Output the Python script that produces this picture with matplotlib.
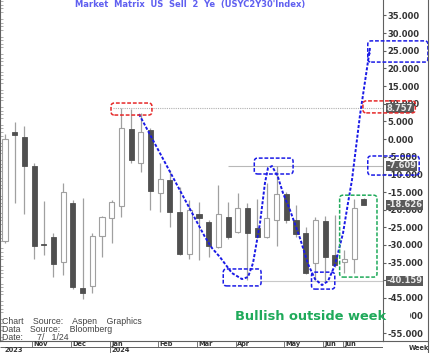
import numpy as np
import pandas as pd
import matplotlib
matplotlib.use("Agg")
import matplotlib.pyplot as plt
from matplotlib.patches import FancyBboxPatch, Rectangle
from matplotlib.lines import Line2D

# weekly bars, USYC2Y30 index
weeks = pd.date_range("2023-10-16", periods=38, freq="W-MON")
opens = [-28.9, 2.0, 0.6, -7.6, -29.7, -27.8, -34.8, -18.1, -42.2, -41.6, -27.5, -22.4, -19.0, 2.8,
         -6.8, 2.5, -15.3, -11.6, -20.7, -32.6, -21.2, -23.5, -30.6, -22.1, -26.3, -19.5, -25.2,
         -27.8, -22.9, -15.6, -22.9, -26.6, -35.1, -23.2, -32.9, -34.8, -34.0, -17.0]
highs = [1.4, 4.8, 3.7, -6.8, -17.6, -26.6, -12.5, -17.3, -16.7, -26.6, -21.8, -17.3, 8.757, 8.6,
         7.4, 3.1, -6.8, -8.8, -13.6, -17.3, -17.8, -22.9, -13.0, -17.8, -15.3, -18.1, -17.0,
         -12.5, -7.609, -15.0, -18.7, -24.9, -22.1, -21.8, -21.5, -31.4, -17.0, -16.7]
lows = [-29.5, -18.1, -21.2, -34.0, -32.9, -39.1, -38.5, -42.5, -45.3, -43.6, -33.4, -29.5, -22.1,
        -6.8, -9.3, -20.1, -20.7, -24.9, -32.9, -34.0, -34.3, -33.4, -30.9, -28.3, -26.6, -39.9,
        -28.0, -28.0, -30.3, -23.8, -27.8, -38.2, -39.9, -40.159, -36.3, -38.0, -38.0, -18.8]
closes = [0.0, 1.1, -7.6, -30.3, -29.9, -35.4, -15.0, -41.9, -43.6, -27.5, -22.1, -17.8, 3.1, -5.9,
          2.0, -14.7, -11.3, -20.7, -32.6, -20.1, -22.4, -30.3, -21.2, -27.8, -19.5, -26.6, -27.8,
          -22.4, -15.6, -22.9, -26.9, -38.0, -22.9, -33.4, -35.7, -34.0, -19.5, -18.626]

month_labels = ["Nov", "Dec", "Jan", "Feb", "Mar", "Apr", "May", "Jun", "Jun"]
month_idx = [3, 7, 11, 16, 20, 24, 29, 33, 35]
year_labels = ["2023", "2024"]
year_idx = [0, 11]

yticks = np.arange(-55, 36, 5)
key_levels = [8.757, -7.609, -18.626, -40.159]

# projected path (week index, value)
path_x = [13.81, 20.62, 21.34, 22.16, 23.40, 24.43, 25.05, 25.57, 26.29, 26.80, 27.11, 27.53,
          28.14, 28.66, 29.38, 30.41, 31.24, 31.96, 32.68, 33.30, 34.02, 34.85, 35.36, 35.77,
          36.60, 37.63]
path_y = [7.08, -27.76, -30.88, -33.43, -37.96, -39.66, -39.09, -35.13, -23.80, -12.46, -8.22,
          -7.65, -10.76, -15.30, -20.11, -28.05, -35.41, -39.66, -41.36, -40.23, -35.69, -26.63,
          -18.13, -11.61, 6.80, 25.78]

RED = "#e62828"
BLUE = "#1a1ae6"
GREEN = "#1faa5a"

# (x0, x1, y0, y1, color)
boxes = [
    (10.93, 15.15, 6.8, 10.2, RED),
    (36.9, 42.3, 7.4, 10.8, RED),
    (37.4, 43.6, 21.8, 27.8, BLUE),
    (37.4, 42.7, -10.2, -4.8, BLUE),
    (25.7, 29.7, -9.9, -5.4, BLUE),
    (22.5, 26.4, -41.6, -36.8, BLUE),
    (31.6, 34.0, -42.5, -37.7, BLUE),
    (34.5, 38.35, -39.1, -15.9, GREEN),
]

W, H = 434, 353
fig = plt.figure(figsize=(W / 100, H / 100), dpi=100)
ax = fig.add_axes([0, 12 / H, 383 / W, 341 / H])
xlim = (-0.515, 38.97)
ax.set_xlim(*xlim)
ax.set_ylim(-57.2, 39.38)

x = np.arange(len(weeks))
o = np.array(opens); c = np.array(closes)
up = c >= o
ax.vlines(x, lows, highs, color="#a0a0a0", lw=0.9, zorder=2)
bw = 0.52
for i in range(len(x)):
    lo, hi = min(o[i], c[i]), max(o[i], c[i])
    h = max(hi - lo, 0.25)
    if up[i]:
        ax.add_patch(Rectangle((x[i] - bw / 2, lo), bw, h, fc="white", ec="#a0a0a0", lw=0.8, zorder=3))
    else:
        ax.add_patch(Rectangle((x[i] - bw / 2, lo), bw, h, fc="#505050", ec="#505050", lw=0.6, zorder=3))

# reference lines
ax.hlines(8.757, 11.1, xlim[1], color="#b0b0b0", lw=0.8, ls=(0, (1, 1)), zorder=1)
ax.hlines(-7.609, 23.0, xlim[1], color="#b8b8b8", lw=0.8, zorder=1)
ax.hlines(-40.159, 26.3, xlim[1], color="#c8c8c8", lw=0.8, zorder=1)

# projected path
ax.plot(path_x, path_y, color=BLUE, lw=1.4, ls=(0, (1.6, 0.9)), zorder=5, clip_on=False)
ax.annotate("", xy=(path_x[-1], path_y[-1]), xytext=(path_x[-2], path_y[-2]),
            arrowprops=dict(arrowstyle="-|>", color=BLUE, lw=0, mutation_scale=6), zorder=5)

for x0, x1, y0, y1, col in boxes:
    ax.add_patch(FancyBboxPatch((x0, y0), x1 - x0, y1 - y0,
                                boxstyle="round,pad=0,rounding_size=0.35",
                                mutation_aspect=9.7 / 3.53, fill=False, ec=col, lw=1.1,
                                ls=(0, (2.5, 1.2)), clip_on=False, zorder=8))

# axes styling
ax.spines["top"].set_visible(False)
for s in ["left", "right", "bottom"]:
    ax.spines[s].set_color("#606060")
    ax.spines[s].set_linewidth(0.8)
ax.set_xticks([])
ax.yaxis.tick_right()
ax.set_yticks(yticks)
ax.set_yticklabels([f"{v:.3f}" for v in yticks], fontsize=6, fontweight="bold",
                   color="#333333", family="DejaVu Sans")
ax.tick_params(axis="y", which="major", direction="out", length=2, pad=1, color="#606060")
ax.set_yticks(np.arange(-57, 40, 1), minor=True)
ax.tick_params(axis="y", which="minor", left=True, right=False, direction="in", length=2,
               width=0.5, color="#909090")

for v in key_levels:
    ax.annotate(f"{v:.3f}", xy=(1, v), xycoords=("axes fraction", "data"), xytext=(2.5, 0),
                textcoords="offset points", ha="left", va="center", fontsize=6,
                fontweight="bold", color="#e8e8e8", family="DejaVu Sans",
                bbox=dict(boxstyle="square,pad=0.08", fc="#5a5a5a", ec="none"),
                annotation_clip=False, zorder=7)

fig.text(190 / W, 1 - 5 / H, "Market  Matrix  US  Sell  2  Ye  (USYC2Y30'Index)", ha="center",
         va="center", fontsize=6, fontweight="bold", color="#5f5ff0")

fig.text(2 / W, 1 - 322 / H, "Chart    Source:    Aspen    Graphics", fontsize=6.3,
         color="#444444", family="Liberation Sans", va="center")
fig.text(2 / W, 1 - 329.5 / H, "Data    Source:    Bloomberg", fontsize=6.3,
         color="#444444", family="Liberation Sans", va="center")
fig.text(2 / W, 1 - 337 / H, "Date:      7/   1/24", fontsize=6.3,
         color="#444444", family="Liberation Sans", va="center")

fig.patches.append(Rectangle((384 / W, 1 - 323 / H), 26 / W, 13 / H, transform=fig.transFigure,
                             fc="white", ec="none", zorder=2))
fig.text(235 / W, 1 - 317 / H, "Bullish outside week", fontsize=9.4, fontweight="bold",
         color=GREEN, va="center", ha="left", zorder=4)

# date strip
dax = fig.add_axes([0, 0, 383 / W, 12 / H])
dax.set_xlim(*xlim)
dax.set_ylim(0, 12)
dax.axis("off")
dax.hlines([6.2, 11.9], xlim[0], xlim[1], color="#606060", lw=0.7)
for lab, i in zip(month_labels, month_idx):
    dax.vlines(i - 0.2, 6.2, 12, color="#606060", lw=0.6)
    dax.text(i - 0.05, 9.1, lab, fontsize=4.8, fontweight="bold", color="#333333",
             ha="left", va="center")
for lab, i in zip(year_labels, year_idx):
    if i > 0:
        dax.vlines(i - 0.2, 0, 6.2, color="#606060", lw=0.6)
    dax.text(i - 0.05 if i > 0 else 0.0, 3.0, lab, fontsize=4.8, fontweight="bold",
             color="#333333", ha="left", va="center")

fig.add_artist(Line2D([428 / W, 428 / W], [0, 1], transform=fig.transFigure, color="#606060", lw=0.8))
fig.add_artist(Line2D([383 / W, 428 / W], [12 / H, 12 / H], transform=fig.transFigure,
                      color="#606060", lw=0.8))
fig.text(419 / W, 1 - 348 / H, "Week", fontsize=4.8, fontweight="bold", color="#333333",
         ha="center", va="center")

fig.savefig("out.png", dpi=100)
